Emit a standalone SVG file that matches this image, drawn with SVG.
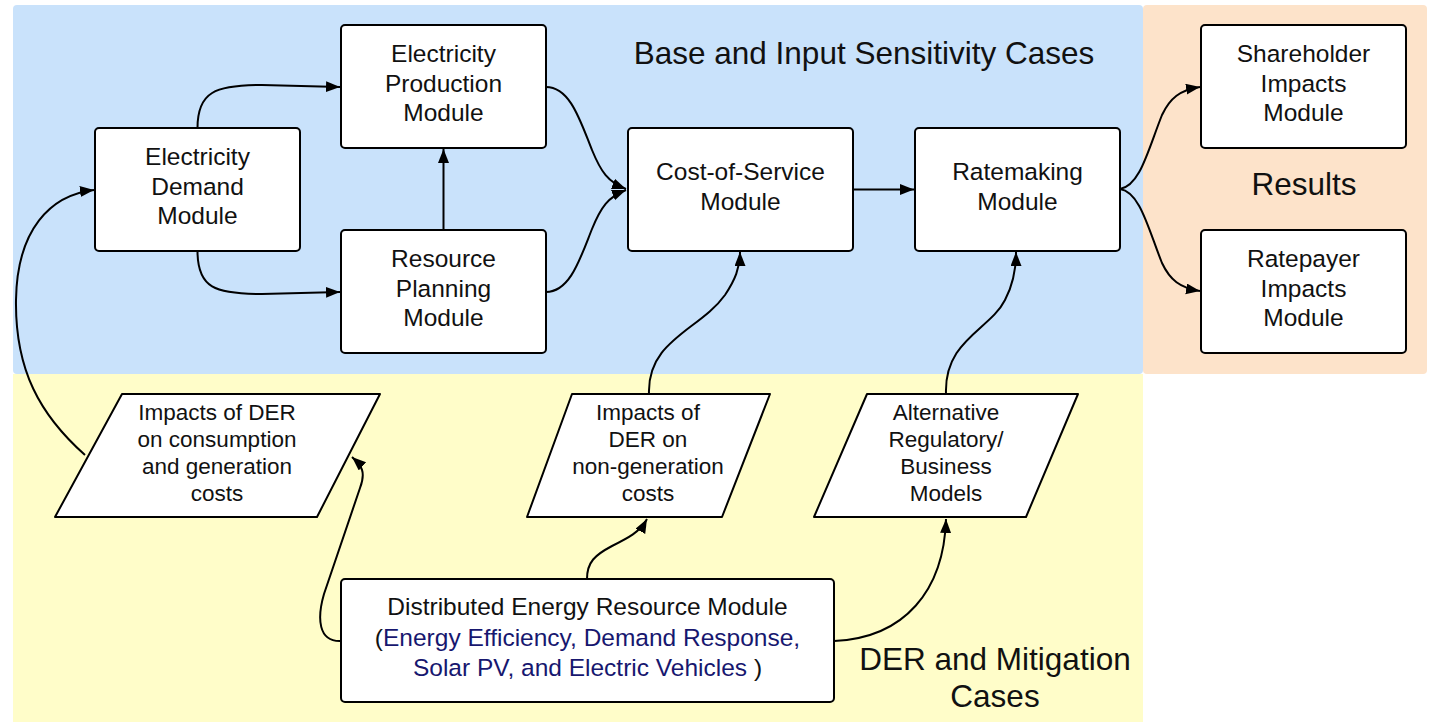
<svg xmlns="http://www.w3.org/2000/svg" width="1432" height="722" viewBox="0 0 1432 722">
<defs>
<style>
.node{fill:#fff;stroke:#000;stroke-width:2;}
.t{font-family:"Liberation Sans",Arial,sans-serif;font-size:24.5px;fill:#111;text-anchor:middle;}
.p{font-family:"Liberation Sans",Arial,sans-serif;font-size:22.5px;fill:#111;text-anchor:middle;}
.big{font-family:"Liberation Sans",Arial,sans-serif;font-size:31.5px;fill:#111;text-anchor:middle;}
.blue{fill:#17176f;}
.edge{fill:none;stroke:#000;stroke-width:2;marker-end:url(#arr);}
</style>
<marker id="arr" markerUnits="userSpaceOnUse" markerWidth="16" markerHeight="12" refX="14" refY="5.5" orient="auto">
<path d="M0,0 L14,5.5 L0,11 z" fill="#000"/>
</marker>
</defs>
<rect width="1432" height="722" fill="#fff"/>
<g id="regions">
<rect x="13" y="5" width="1130" height="369" rx="4" fill="#c9e2fb"/>
<rect x="13" y="374" width="1130" height="348" fill="#fffdc9"/>
<rect x="1143" y="5" width="284" height="369" rx="4" fill="#fde3ca"/>
</g>
<g id="labels">
<text class="big" x="864" y="64">Base and Input Sensitivity Cases</text>
<text class="big" x="1304" y="195">Results</text>
<text class="big" x="995" y="670">DER and Mitigation</text>
<text class="big" x="995" y="707">Cases</text>
</g>
<g id="connectors">
<path class="edge" d="M197.5,128 C197.5,92 215,85 262,85 L340,87"/>
<path class="edge" d="M197.5,251 C197.5,288 215,294 262,294 L340,292"/>
<path class="edge" d="M443.5,230 L443.5,149"/>
<path class="edge" d="M546,87 C570,87 580,120 592,150 C601,172 608,182 626,189"/>
<path class="edge" d="M546,292 C570,292 580,259 592,229 C601,207 608,197 626,190"/>
<path class="edge" d="M853,189.5 L914,189.5"/>
<path class="edge" d="M1120,189 C1140,186 1148,150 1162,115 C1170,98 1180,90 1200,87"/>
<path class="edge" d="M1120,189 C1140,192 1148,228 1162,263 C1170,280 1180,288 1200,291"/>
<path class="edge" d="M85,455 C40,415 15,370 16,300 C17,230 50,195 94,190"/>
<path class="edge" d="M341,641 C318,642 317,618 324,594 L360,488 C366,472 362,466 352,457"/>
<path class="edge" d="M587,579 C587,562 595,555 612,546 C628,538 640,532 647,519"/>
<path class="edge" d="M649,394 C647,340 700,330 725,295 C735,280 740,268 740,252"/>
<path class="edge" d="M946,394 C944,340 990,330 1005,300 C1013,285 1016,270 1016,252"/>
<path class="edge" d="M834,641 C905,638 944,590 946,519"/>
</g>
<g id="demand">
<rect class="node" x="95" y="128" width="205" height="123" rx="4"/>
<text class="t" x="197.5" y="165">Electricity</text>
<text class="t" x="197.5" y="194.5">Demand</text>
<text class="t" x="197.5" y="224">Module</text>
</g>
<g id="production">
<rect class="node" x="341" y="25" width="205" height="123" rx="4"/>
<text class="t" x="443.5" y="62">Electricity</text>
<text class="t" x="443.5" y="91.5">Production</text>
<text class="t" x="443.5" y="121">Module</text>
</g>
<g id="planning">
<rect class="node" x="341" y="230" width="205" height="123" rx="4"/>
<text class="t" x="443.5" y="267">Resource</text>
<text class="t" x="443.5" y="296.5">Planning</text>
<text class="t" x="443.5" y="326">Module</text>
</g>
<g id="cost">
<rect class="node" x="628" y="128" width="225" height="123" rx="4"/>
<text class="t" x="740.5" y="180">Cost-of-Service</text>
<text class="t" x="740.5" y="209.5">Module</text>
</g>
<g id="ratemaking">
<rect class="node" x="915" y="128" width="205" height="123" rx="4"/>
<text class="t" x="1017.5" y="180">Ratemaking</text>
<text class="t" x="1017.5" y="209.5">Module</text>
</g>
<g id="shareholder">
<rect class="node" x="1201" y="25" width="205" height="123" rx="4"/>
<text class="t" x="1303.5" y="62">Shareholder</text>
<text class="t" x="1303.5" y="91.5">Impacts</text>
<text class="t" x="1303.5" y="121">Module</text>
</g>
<g id="ratepayer">
<rect class="node" x="1201" y="230" width="205" height="123" rx="4"/>
<text class="t" x="1303.5" y="267">Ratepayer</text>
<text class="t" x="1303.5" y="296.5">Impacts</text>
<text class="t" x="1303.5" y="326">Module</text>
</g>
<g id="impacts-consumption">
<path class="node" stroke-linejoin="round" d="M122,394 L380,394 L317,517 L55,517 Z"/>
<text class="p" x="217" y="420">Impacts of DER</text>
<text class="p" x="217" y="447">on consumption</text>
<text class="p" x="217" y="474">and generation</text>
<text class="p" x="217" y="501">costs</text>
</g>
<g id="impacts-nongeneration">
<path class="node" stroke-linejoin="round" d="M572,394 L770,394 L722,517 L527,517 Z"/>
<text class="p" x="648" y="420">Impacts of</text>
<text class="p" x="648" y="447">DER on</text>
<text class="p" x="648" y="474">non-generation</text>
<text class="p" x="648" y="501">costs</text>
</g>
<g id="alternative-models">
<path class="node" stroke-linejoin="round" d="M867,394 L1078,394 L1026,517 L814,517 Z"/>
<text class="p" x="946" y="420">Alternative</text>
<text class="p" x="946" y="447">Regulatory/</text>
<text class="p" x="946" y="474">Business</text>
<text class="p" x="946" y="501">Models</text>
</g>
<g id="der-module">
<rect class="node" x="341" y="579" width="493" height="123" rx="4"/>
<text class="t" x="587.5" y="615">Distributed Energy Resource Module</text>
<text class="t" x="587.5" y="646">(<tspan class="blue">Energy Efficiency, Demand Response,</tspan></text>
<text class="t" x="587.5" y="675.5"><tspan class="blue">Solar PV, and Electric Vehicles</tspan> )</text>
</g>
</svg>
